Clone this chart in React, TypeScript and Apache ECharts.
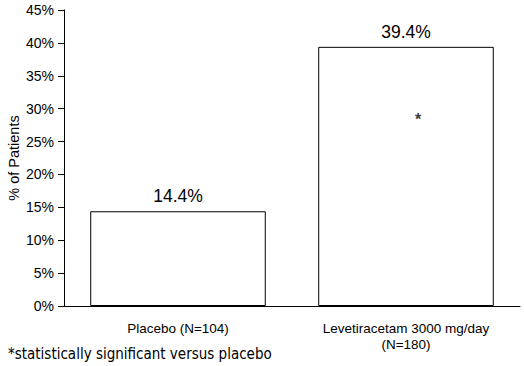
import React, { useEffect, useRef } from "react";
import * as echarts from "echarts";

const categories = ["Placebo (N=104)", "Levetiracetam 3000 mg/day\n(N=180)"];
const values = [14.4, 39.4];
const asteriskValues = [null, 28.4];
const yTicks = [0, 5, 10, 15, 20, 25, 30, 35, 40, 45];
const footnote = "*statistically significant versus placebo";

export default function App() {
  const ref = useRef<HTMLDivElement>(null);
  useEffect(() => {
    if (!ref.current) return;
    const chart = echarts.init(ref.current, undefined, { renderer: "svg" });
    chart.setOption({
      animation: false,
      backgroundColor: "#ffffff",
      grid: { left: 64, right: 4, top: 10, bottom: 60, outerBoundsMode: "none", containLabel: false },
      xAxis: {
        type: "category",
        data: categories,
        axisLine: { lineStyle: { color: "#000", width: 1 } },
        axisTick: { show: false },
        axisLabel: {
          color: "#000",
          fontFamily: "Liberation Sans, Arial, sans-serif",
          fontSize: 13.5,
          margin: 14,
          lineHeight: 16,
        },
      },
      yAxis: {
        type: "value",
        min: 0,
        max: yTicks[yTicks.length - 1],
        interval: 5,
        name: "% of Patients",
        nameLocation: "middle",
        nameGap: 43,
        nameMoveOverlap: false,
        nameTextStyle: {
          color: "#000",
          fontFamily: "Liberation Sans, Arial, sans-serif",
          fontSize: 14.5,
        },
        axisLine: { show: true, lineStyle: { color: "#000", width: 1 } },
        axisTick: { show: true, length: 6, lineStyle: { color: "#000" } },
        splitLine: { show: false },
        axisLabel: {
          color: "#000",
          fontFamily: "Liberation Sans, Arial, sans-serif",
          fontSize: 14,
          margin: 10,
          formatter: (v: number) => v + "%",
        },
      },
      series: [
        {
          type: "bar",
          data: values,
          barWidth: "77%",
          itemStyle: { color: "#ffffff", borderColor: "#000", borderWidth: 1 },
          label: {
            show: true,
            position: "top",
            distance: 6,
            color: "#000",
            fontFamily: "Liberation Sans, Arial, sans-serif",
            fontSize: 17.5,
            formatter: (p: any) => p.value.toFixed(1) + "%",
          },
        },
        {
          type: "scatter",
          data: asteriskValues,
          symbolSize: 0,
          label: {
            show: true,
            position: "inside",
            offset: [12, 0],
            color: "#000",
            fontFamily: "Liberation Sans, Arial, sans-serif",
            fontSize: 16,
            fontWeight: "bold",
            formatter: "*",
          },
        },
      ],
      graphic: [
        {
          type: "text",
          left: 8,
          top: 346,
          style: {
            text: footnote,
            fill: "#000",
            fontFamily: "Liberation Sans Narrow, DejaVu Sans Condensed, sans-serif",
            fontSize: 15,
          },
        },
      ],
    });
    return () => chart.dispose();
  }, []);
  return <div ref={ref} style={{ width: 524, height: 366, position: "absolute", left: 0, top: 0 }} />;
}
